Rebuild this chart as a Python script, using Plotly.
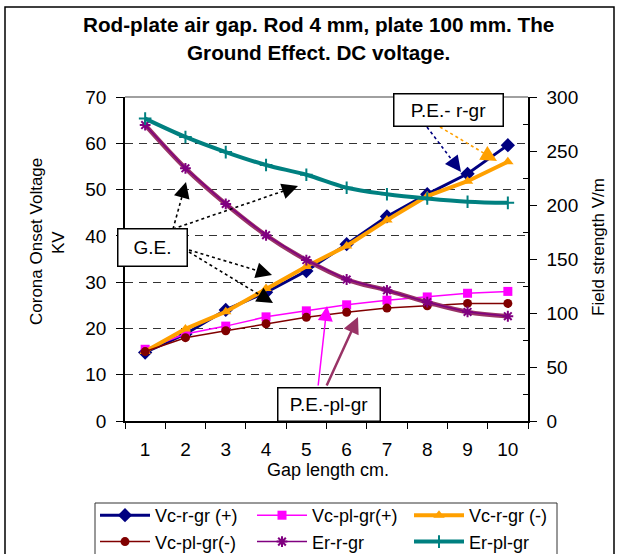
import plotly.graph_objects as go

# Gap length (cm)
gap_cm = [1, 2, 3, 4, 5, 6, 7, 8, 9, 10]

# Corona onset voltage (kV)
vc_r_gr_pos = [14.8, 18.8, 24.0, 27.8, 32.4, 38.2, 44.2, 49.0, 53.4, 59.6]
vc_pl_gr_pos = [15.5, 18.8, 20.5, 22.5, 23.8, 25.1, 26.1, 26.8, 27.6, 28.0]
vc_r_gr_neg = [15.0, 19.9, 23.6, 28.6, 33.4, 37.8, 43.4, 48.6, 51.8, 56.0]
vc_pl_gr_neg = [15.0, 18.0, 19.5, 21.0, 22.4, 23.5, 24.4, 24.9, 25.4, 25.4]

# Field strength (V/m)
er_r_gr = [274, 234, 201, 172, 149, 131, 121, 110, 101, 97]
er_pl_gr = [280, 263, 249, 237, 228, 216, 210, 206, 203, 202]

left_ticks = [0, 10, 20, 30, 40, 50, 60, 70]
right_ticks = [0, 50, 100, 150, 200, 250, 300]

FONT = "Liberation Sans, Arial, sans-serif"
W, H = 618, 554
L, R, T, B = 125, 528, 97, 421  # plot area in pixels

fig = go.Figure()

fig.add_trace(go.Scatter(x=gap_cm, y=vc_r_gr_pos, name="Vc-r-gr (+)", mode="lines+markers",
                         line=dict(color="#000080", width=3),
                         marker=dict(symbol="diamond", size=11, color="#000080")))
fig.add_trace(go.Scatter(x=gap_cm, y=vc_pl_gr_pos, name="Vc-pl-gr(+)", mode="lines+markers",
                         line=dict(color="#FF00FF", width=1.5),
                         marker=dict(symbol="square", size=9, color="#FF00FF")))
fig.add_trace(go.Scatter(x=gap_cm, y=vc_r_gr_neg, name="Vc-r-gr (-)", mode="lines+markers",
                         line=dict(color="#FFA000", width=4),
                         marker=dict(symbol="triangle-up", size=10, color="#FFA000")))
fig.add_trace(go.Scatter(x=gap_cm, y=vc_pl_gr_neg, name="Vc-pl-gr(-)", mode="lines+markers",
                         line=dict(color="#800000", width=1.5),
                         marker=dict(symbol="circle", size=9, color="#800000")))
# smooth trend of Er-r-gr
fig.add_trace(go.Scatter(x=gap_cm, y=er_r_gr, yaxis="y2", mode="lines", showlegend=False,
                         hoverinfo="skip", line=dict(color="#993366", width=4.5, shape="spline")))
fig.add_trace(go.Scatter(x=gap_cm, y=er_r_gr, yaxis="y2", name="Er-r-gr", mode="lines+markers",
                         line=dict(color="#800080", width=1.5),
                         marker=dict(symbol="asterisk-open", size=9,
                                     line=dict(color="#800080", width=2))))
fig.add_trace(go.Scatter(x=gap_cm, y=er_pl_gr, yaxis="y2", name="Er-pl-gr", mode="lines+markers",
                         line=dict(color="#008080", width=4, shape="spline"),
                         marker=dict(symbol="cross-thin-open", size=9,
                                     line=dict(color="#008080", width=2))))

# pixel -> axis coordinate helpers for callouts
def ax_x(px):
    return 0.5 + (px - L) / ((R - L) / 10)

def ax_y(py):
    return (B - py) / ((B - T) / 70)

def pap_x(px):
    return (px - L) / (R - L)

def pap_y(py):
    return (B - py) / (B - T)

shapes = []
annotations = []

def dotted_arrow(sx, sy, tx, ty, color, head=1.6):
    dx, dy = sx - tx, sy - ty
    d = (dx * dx + dy * dy) ** 0.5
    ux, uy = dx / d, dy / d
    ex, ey = tx + ux * 10, ty + uy * 10
    shapes.append(dict(type="line", xref="x", yref="y", x0=ax_x(sx), y0=ax_y(sy),
                       x1=ax_x(ex), y1=ax_y(ey), line=dict(color=color, width=1.6, dash="dot")))
    annotations.append(dict(x=ax_x(tx), y=ax_y(ty), xref="x", yref="y", text="",
                            showarrow=True, arrowhead=2, arrowsize=head, arrowwidth=2,
                            arrowcolor=color, ax=ux * 14, ay=uy * 14, standoff=0))

def solid_arrow(sx, sy, tx, ty, color, width, size):
    annotations.append(dict(x=ax_x(tx), y=ax_y(ty), xref="x", yref="y", text="",
                            showarrow=True, arrowhead=2, arrowsize=size,
                            arrowwidth=width, arrowcolor=color,
                            ax=ax_x(sx), ay=ax_y(sy), axref="x", ayref="y", standoff=0))

# G.E. callouts
dotted_arrow(173, 229, 186, 182, "black")
dotted_arrow(173, 229, 298, 186, "black")
dotted_arrow(189, 250, 272, 275, "black")
dotted_arrow(189, 252, 273, 303, "black")
# P.E. r-gr callouts
dotted_arrow(427, 127, 461, 172, "#000080")
dotted_arrow(440, 127, 497, 161, "#FFA000")
# P.E. pl-gr callouts
solid_arrow(318, 387, 327, 306, "#FF00FF", 1.5, 2.0)
solid_arrow(326, 387, 358, 317, "#993366", 2.5, 1.3)

def box_label(text, cx, cy, w, h):
    annotations.append(dict(x=ax_x(cx), y=ax_y(cy), xref="x", yref="y", text=text,
                            showarrow=False, width=w, height=h, bgcolor="white",
                            bordercolor="black", borderwidth=1.5, borderpad=1,
                            xanchor="center", yanchor="middle",
                            font=dict(family=FONT, size=19, color="black")))

box_label("G.E.", 152.5, 247.5, 66, 34)
box_label("P.E.- r-gr", 448.5, 110, 106, 29)
box_label("P.E.-pl-gr", 329, 404.5, 99, 30)

def paper_text(text, px, py, size, angle=0):
    annotations.append(dict(x=pap_x(px), y=pap_y(py), xref="paper", yref="paper",
                            showarrow=False, text=text, textangle=angle,
                            xanchor="center", yanchor="middle",
                            font=dict(family=FONT, size=size, color="black")))

# titles
paper_text("<b>Rod-plate air gap. Rod 4 mm, plate 100 mm. The</b>", 318, 25, 20.7)
paper_text("<b>Ground Effect. DC voltage.</b>", 318, 52, 20.7)
paper_text("Corona Onset Voltage", 36, 242, 17, -90)
paper_text("KV", 58, 243, 17, -90)
paper_text("Field strength V/m", 599, 247, 17, -90)
paper_text("Gap length cm.", 328, 470, 18)

# plot-area top border, legend frame and outer chart frame
shapes.append(dict(type="line", xref="paper", yref="paper", x0=0, x1=1, y0=1, y1=1,
                   line=dict(color="#808080", width=1.5)))
shapes.append(dict(type="rect", xref="paper", yref="paper", x0=pap_x(95), x1=pap_x(557),
                   y0=pap_y(562), y1=pap_y(503), line=dict(color="#333333", width=1),
                   fillcolor="rgba(0,0,0,0)"))
shapes.append(dict(type="rect", xref="paper", yref="paper", x0=pap_x(5), x1=pap_x(614),
                   y0=pap_y(570), y1=pap_y(7), line=dict(color="black", width=1.5),
                   fillcolor="rgba(0,0,0,0)"))

fig.update_layout(
    width=W, height=H,
    margin=dict(l=L, r=W - R, t=T, b=H - B, autoexpand=False),
    paper_bgcolor="white", plot_bgcolor="white",
    font=dict(family=FONT, size=17, color="black"),
    showlegend=True,
    legend=dict(orientation="h", x=pap_x(95), y=pap_y(497), xanchor="left", yanchor="top",
                borderwidth=0, bgcolor="rgba(0,0,0,0)",
                itemwidth=50, entrywidth=92, entrywidthmode="pixels", tracegroupgap=0,
                font=dict(family=FONT, size=18, color="black")),
    xaxis=dict(range=[0.5, 10.5], tickvals=gap_cm, ticktext=[str(g) for g in gap_cm],
               ticks="", showgrid=False, zeroline=False, showline=True, linecolor="black",
               linewidth=1.5, ticklabelstandoff=10,
               minor=dict(ticks="outside", tick0=0.5, dtick=1, ticklen=6, tickcolor="black",
                          showgrid=False),
               tickfont=dict(family=FONT, size=19)),
    yaxis=dict(range=[0, 70], tickvals=left_ticks, ticks="outside", ticklen=7, tickcolor="black",
               showline=True, linecolor="black", linewidth=1.5, zeroline=False,
               showgrid=True, gridcolor="#333333", gridwidth=1, griddash="8px,6px",
               ticklabelstandoff=6, tickfont=dict(family=FONT, size=19)),
    yaxis2=dict(range=[0, 300], tickvals=right_ticks, overlaying="y", side="right",
                ticks="outside", ticklen=7, tickcolor="black", showline=True, linecolor="black",
                linewidth=1.5, zeroline=False, showgrid=False, ticklabelstandoff=6,
                minor=dict(ticks="inside", tick0=25, dtick=50, ticklen=5, tickcolor="black"),
                tickfont=dict(family=FONT, size=19)),
    shapes=shapes,
    annotations=annotations,
)

fig.write_html("out.html")
